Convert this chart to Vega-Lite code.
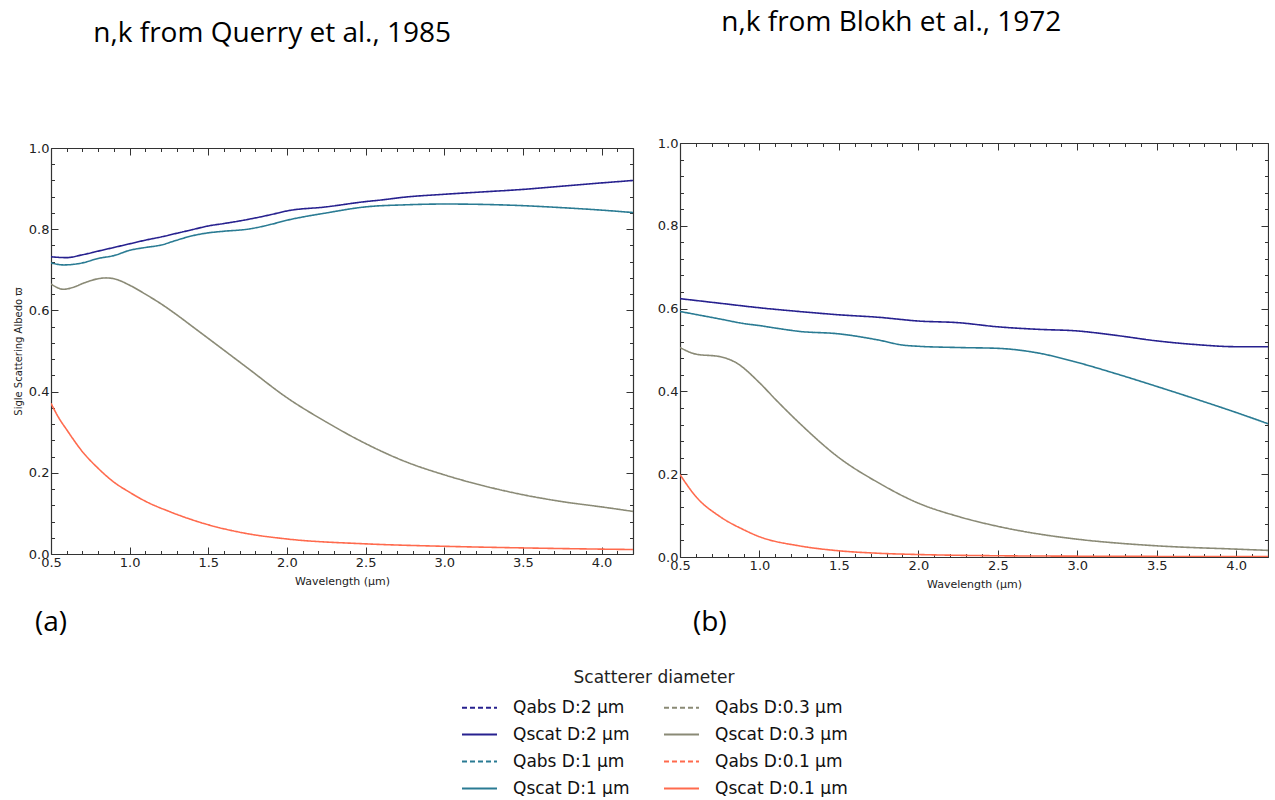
{
  "$schema": "https://vega.github.io/schema/vega-lite/v6.json",
  "background": "white",
  "padding": {"left": 13, "top": 9, "right": 0, "bottom": 0},
  "datasets": {
    "a": [
      {"w": 0.5, "alb": 0.732, "series": "Qscat D:2 µm"},
      {"w": 0.6, "alb": 0.730, "series": "Qscat D:2 µm"},
      {"w": 0.7, "alb": 0.737, "series": "Qscat D:2 µm"},
      {"w": 0.8, "alb": 0.746, "series": "Qscat D:2 µm"},
      {"w": 0.9, "alb": 0.755, "series": "Qscat D:2 µm"},
      {"w": 1.0, "alb": 0.764, "series": "Qscat D:2 µm"},
      {"w": 1.1, "alb": 0.773, "series": "Qscat D:2 µm"},
      {"w": 1.2, "alb": 0.781, "series": "Qscat D:2 µm"},
      {"w": 1.3, "alb": 0.790, "series": "Qscat D:2 µm"},
      {"w": 1.4, "alb": 0.799, "series": "Qscat D:2 µm"},
      {"w": 1.5, "alb": 0.808, "series": "Qscat D:2 µm"},
      {"w": 1.6, "alb": 0.814, "series": "Qscat D:2 µm"},
      {"w": 1.75, "alb": 0.824, "series": "Qscat D:2 µm"},
      {"w": 1.9, "alb": 0.836, "series": "Qscat D:2 µm"},
      {"w": 2.0, "alb": 0.845, "series": "Qscat D:2 µm"},
      {"w": 2.25, "alb": 0.855, "series": "Qscat D:2 µm"},
      {"w": 2.5, "alb": 0.868, "series": "Qscat D:2 µm"},
      {"w": 2.6, "alb": 0.872, "series": "Qscat D:2 µm"},
      {"w": 2.75, "alb": 0.879, "series": "Qscat D:2 µm"},
      {"w": 3.0, "alb": 0.886, "series": "Qscat D:2 µm"},
      {"w": 3.25, "alb": 0.892, "series": "Qscat D:2 µm"},
      {"w": 3.5, "alb": 0.898, "series": "Qscat D:2 µm"},
      {"w": 3.75, "alb": 0.906, "series": "Qscat D:2 µm"},
      {"w": 4.0, "alb": 0.914, "series": "Qscat D:2 µm"},
      {"w": 4.2, "alb": 0.920, "series": "Qscat D:2 µm"},

      {"w": 0.5, "alb": 0.717, "series": "Qscat D:1 µm"},
      {"w": 0.58, "alb": 0.712, "series": "Qscat D:1 µm"},
      {"w": 0.7, "alb": 0.717, "series": "Qscat D:1 µm"},
      {"w": 0.8, "alb": 0.728, "series": "Qscat D:1 µm"},
      {"w": 0.9, "alb": 0.735, "series": "Qscat D:1 µm"},
      {"w": 1.0, "alb": 0.748, "series": "Qscat D:1 µm"},
      {"w": 1.1, "alb": 0.755, "series": "Qscat D:1 µm"},
      {"w": 1.2, "alb": 0.761, "series": "Qscat D:1 µm"},
      {"w": 1.3, "alb": 0.773, "series": "Qscat D:1 µm"},
      {"w": 1.4, "alb": 0.784, "series": "Qscat D:1 µm"},
      {"w": 1.5, "alb": 0.791, "series": "Qscat D:1 µm"},
      {"w": 1.6, "alb": 0.795, "series": "Qscat D:1 µm"},
      {"w": 1.75, "alb": 0.800, "series": "Qscat D:1 µm"},
      {"w": 1.9, "alb": 0.812, "series": "Qscat D:1 µm"},
      {"w": 2.0, "alb": 0.822, "series": "Qscat D:1 µm"},
      {"w": 2.25, "alb": 0.840, "series": "Qscat D:1 µm"},
      {"w": 2.5, "alb": 0.855, "series": "Qscat D:1 µm"},
      {"w": 2.75, "alb": 0.860, "series": "Qscat D:1 µm"},
      {"w": 3.0, "alb": 0.862, "series": "Qscat D:1 µm"},
      {"w": 3.25, "alb": 0.861, "series": "Qscat D:1 µm"},
      {"w": 3.5, "alb": 0.858, "series": "Qscat D:1 µm"},
      {"w": 3.75, "alb": 0.853, "series": "Qscat D:1 µm"},
      {"w": 4.0, "alb": 0.847, "series": "Qscat D:1 µm"},
      {"w": 4.2, "alb": 0.841, "series": "Qscat D:1 µm"},

      {"w": 0.5, "alb": 0.665, "series": "Qscat D:0.3 µm"},
      {"w": 0.58, "alb": 0.652, "series": "Qscat D:0.3 µm"},
      {"w": 0.65, "alb": 0.658, "series": "Qscat D:0.3 µm"},
      {"w": 0.7, "alb": 0.666, "series": "Qscat D:0.3 µm"},
      {"w": 0.8, "alb": 0.678, "series": "Qscat D:0.3 µm"},
      {"w": 0.85, "alb": 0.680, "series": "Qscat D:0.3 µm"},
      {"w": 0.9, "alb": 0.678, "series": "Qscat D:0.3 µm"},
      {"w": 1.0, "alb": 0.662, "series": "Qscat D:0.3 µm"},
      {"w": 1.1, "alb": 0.640, "series": "Qscat D:0.3 µm"},
      {"w": 1.2, "alb": 0.616, "series": "Qscat D:0.3 µm"},
      {"w": 1.3, "alb": 0.589, "series": "Qscat D:0.3 µm"},
      {"w": 1.4, "alb": 0.560, "series": "Qscat D:0.3 µm"},
      {"w": 1.5, "alb": 0.531, "series": "Qscat D:0.3 µm"},
      {"w": 1.75, "alb": 0.458, "series": "Qscat D:0.3 µm"},
      {"w": 2.0, "alb": 0.385, "series": "Qscat D:0.3 µm"},
      {"w": 2.25, "alb": 0.325, "series": "Qscat D:0.3 µm"},
      {"w": 2.5, "alb": 0.272, "series": "Qscat D:0.3 µm"},
      {"w": 2.75, "alb": 0.228, "series": "Qscat D:0.3 µm"},
      {"w": 3.0, "alb": 0.195, "series": "Qscat D:0.3 µm"},
      {"w": 3.25, "alb": 0.168, "series": "Qscat D:0.3 µm"},
      {"w": 3.5, "alb": 0.146, "series": "Qscat D:0.3 µm"},
      {"w": 3.75, "alb": 0.129, "series": "Qscat D:0.3 µm"},
      {"w": 4.0, "alb": 0.116, "series": "Qscat D:0.3 µm"},
      {"w": 4.2, "alb": 0.105, "series": "Qscat D:0.3 µm"},

      {"w": 0.5, "alb": 0.371, "series": "Qscat D:0.1 µm"},
      {"w": 0.55, "alb": 0.335, "series": "Qscat D:0.1 µm"},
      {"w": 0.6, "alb": 0.306, "series": "Qscat D:0.1 µm"},
      {"w": 0.7, "alb": 0.252, "series": "Qscat D:0.1 µm"},
      {"w": 0.8, "alb": 0.211, "series": "Qscat D:0.1 µm"},
      {"w": 0.9, "alb": 0.177, "series": "Qscat D:0.1 µm"},
      {"w": 1.0, "alb": 0.152, "series": "Qscat D:0.1 µm"},
      {"w": 1.1, "alb": 0.130, "series": "Qscat D:0.1 µm"},
      {"w": 1.25, "alb": 0.105, "series": "Qscat D:0.1 µm"},
      {"w": 1.5, "alb": 0.072, "series": "Qscat D:0.1 µm"},
      {"w": 1.75, "alb": 0.050, "series": "Qscat D:0.1 µm"},
      {"w": 2.0, "alb": 0.037, "series": "Qscat D:0.1 µm"},
      {"w": 2.5, "alb": 0.025, "series": "Qscat D:0.1 µm"},
      {"w": 3.0, "alb": 0.019, "series": "Qscat D:0.1 µm"},
      {"w": 3.5, "alb": 0.015, "series": "Qscat D:0.1 µm"},
      {"w": 4.0, "alb": 0.012, "series": "Qscat D:0.1 µm"},
      {"w": 4.2, "alb": 0.011, "series": "Qscat D:0.1 µm"}
    ],
    "b": [
      {"w": 0.5, "alb": 0.624, "series": "Qscat D:2 µm"},
      {"w": 0.75, "alb": 0.613, "series": "Qscat D:2 µm"},
      {"w": 1.0, "alb": 0.602, "series": "Qscat D:2 µm"},
      {"w": 1.25, "alb": 0.593, "series": "Qscat D:2 µm"},
      {"w": 1.5, "alb": 0.585, "series": "Qscat D:2 µm"},
      {"w": 1.75, "alb": 0.579, "series": "Qscat D:2 µm"},
      {"w": 2.0, "alb": 0.570, "series": "Qscat D:2 µm"},
      {"w": 2.25, "alb": 0.566, "series": "Qscat D:2 µm"},
      {"w": 2.5, "alb": 0.556, "series": "Qscat D:2 µm"},
      {"w": 2.75, "alb": 0.550, "series": "Qscat D:2 µm"},
      {"w": 3.0, "alb": 0.546, "series": "Qscat D:2 µm"},
      {"w": 3.25, "alb": 0.535, "series": "Qscat D:2 µm"},
      {"w": 3.5, "alb": 0.522, "series": "Qscat D:2 µm"},
      {"w": 3.75, "alb": 0.513, "series": "Qscat D:2 µm"},
      {"w": 4.0, "alb": 0.508, "series": "Qscat D:2 µm"},
      {"w": 4.2, "alb": 0.508, "series": "Qscat D:2 µm"},

      {"w": 0.5, "alb": 0.593, "series": "Qscat D:1 µm"},
      {"w": 0.75, "alb": 0.575, "series": "Qscat D:1 µm"},
      {"w": 0.9, "alb": 0.564, "series": "Qscat D:1 µm"},
      {"w": 1.0, "alb": 0.559, "series": "Qscat D:1 µm"},
      {"w": 1.1, "alb": 0.553, "series": "Qscat D:1 µm"},
      {"w": 1.25, "alb": 0.545, "series": "Qscat D:1 µm"},
      {"w": 1.5, "alb": 0.539, "series": "Qscat D:1 µm"},
      {"w": 1.75, "alb": 0.524, "series": "Qscat D:1 µm"},
      {"w": 1.9, "alb": 0.512, "series": "Qscat D:1 µm"},
      {"w": 2.0, "alb": 0.509, "series": "Qscat D:1 µm"},
      {"w": 2.25, "alb": 0.506, "series": "Qscat D:1 µm"},
      {"w": 2.5, "alb": 0.504, "series": "Qscat D:1 µm"},
      {"w": 2.75, "alb": 0.493, "series": "Qscat D:1 µm"},
      {"w": 3.0, "alb": 0.470, "series": "Qscat D:1 µm"},
      {"w": 3.25, "alb": 0.442, "series": "Qscat D:1 µm"},
      {"w": 3.5, "alb": 0.412, "series": "Qscat D:1 µm"},
      {"w": 3.75, "alb": 0.381, "series": "Qscat D:1 µm"},
      {"w": 4.0, "alb": 0.349, "series": "Qscat D:1 µm"},
      {"w": 4.2, "alb": 0.322, "series": "Qscat D:1 µm"},

      {"w": 0.5, "alb": 0.506, "series": "Qscat D:0.3 µm"},
      {"w": 0.6, "alb": 0.490, "series": "Qscat D:0.3 µm"},
      {"w": 0.75, "alb": 0.484, "series": "Qscat D:0.3 µm"},
      {"w": 0.85, "alb": 0.470, "series": "Qscat D:0.3 µm"},
      {"w": 1.0, "alb": 0.421, "series": "Qscat D:0.3 µm"},
      {"w": 1.1, "alb": 0.381, "series": "Qscat D:0.3 µm"},
      {"w": 1.25, "alb": 0.324, "series": "Qscat D:0.3 µm"},
      {"w": 1.5, "alb": 0.240, "series": "Qscat D:0.3 µm"},
      {"w": 1.75, "alb": 0.179, "series": "Qscat D:0.3 µm"},
      {"w": 2.0, "alb": 0.130, "series": "Qscat D:0.3 µm"},
      {"w": 2.25, "alb": 0.098, "series": "Qscat D:0.3 µm"},
      {"w": 2.5, "alb": 0.074, "series": "Qscat D:0.3 µm"},
      {"w": 2.75, "alb": 0.056, "series": "Qscat D:0.3 µm"},
      {"w": 3.0, "alb": 0.043, "series": "Qscat D:0.3 µm"},
      {"w": 3.5, "alb": 0.027, "series": "Qscat D:0.3 µm"},
      {"w": 4.0, "alb": 0.019, "series": "Qscat D:0.3 µm"},
      {"w": 4.2, "alb": 0.016, "series": "Qscat D:0.3 µm"},

      {"w": 0.5, "alb": 0.199, "series": "Qscat D:0.1 µm"},
      {"w": 0.6, "alb": 0.146, "series": "Qscat D:0.1 µm"},
      {"w": 0.75, "alb": 0.098, "series": "Qscat D:0.1 µm"},
      {"w": 0.9, "alb": 0.066, "series": "Qscat D:0.1 µm"},
      {"w": 1.0, "alb": 0.049, "series": "Qscat D:0.1 µm"},
      {"w": 1.25, "alb": 0.027, "series": "Qscat D:0.1 µm"},
      {"w": 1.5, "alb": 0.015, "series": "Qscat D:0.1 µm"},
      {"w": 1.75, "alb": 0.009, "series": "Qscat D:0.1 µm"},
      {"w": 2.0, "alb": 0.006, "series": "Qscat D:0.1 µm"},
      {"w": 2.5, "alb": 0.003, "series": "Qscat D:0.1 µm"},
      {"w": 3.0, "alb": 0.002, "series": "Qscat D:0.1 µm"},
      {"w": 4.2, "alb": 0.001, "series": "Qscat D:0.1 µm"}
    ]
  },
  "hconcat": [
    {
      "title": {"text": "n,k from Querry et al., 1985", "anchor": "start", "dx": 80, "offset": 94},
      "vconcat": [
        {
          "width": 582,
          "height": 411,
          "title": {"text": "(a)", "orient": "bottom", "anchor": "start", "frame": "group", "dx": -16, "offset": 22},
          "data": {"name": "a"},
          "layer": [
            {
              "mark": {"type": "line", "interpolate": "monotone", "strokeWidth": 1.6, "clip": true},
              "encoding": {
                "x": {"field": "w", "type": "quantitative",
                  "scale": {"domain": [0.5, 4.2], "nice": false, "zero": false},
                  "axis": {"orient": "bottom", "title": "Wavelength (µm)",
                    "values": [0.5,0.6,0.7,0.8,0.9,1.0,1.1,1.2,1.3,1.4,1.5,1.6,1.7,1.8,1.9,2.0,2.1,2.2,2.3,2.4,2.5,2.6,2.7,2.8,2.9,3.0,3.1,3.2,3.3,3.4,3.5,3.6,3.7,3.8,3.9,4.0,4.1,4.2],
                    "labelExpr": "abs(round(datum.value*2)-datum.value*2)<0.001 ? format(datum.value,'.1f') : ''",
                    "tickSize": {"condition": {"test": "abs(round(datum.value*2)-datum.value*2)<0.001", "value": -7}, "value": -3.5},
                    "labelPadding": 9}},
                "y": {"field": "alb", "type": "quantitative",
                  "scale": {"domain": [0, 1], "nice": false, "range": [411, 5]},
                  "axis": {"orient": "left", "title": "Sigle Scattering Albedo ϖ",
                    "values": [0,0.04,0.08,0.12,0.16,0.2,0.24,0.28,0.32,0.36,0.4,0.44,0.48,0.52,0.56,0.6,0.64,0.68,0.72,0.76,0.8,0.84,0.88,0.92,0.96,1],
                    "labelExpr": "abs(round(datum.value*5)-datum.value*5)<0.001 ? format(datum.value,'.1f') : ''",
                    "tickSize": {"condition": {"test": "abs(round(datum.value*5)-datum.value*5)<0.001", "value": -7}, "value": -3.5},
                    "labelPadding": 9, "titlePadding": 5}},
                "color": {"field": "series", "type": "nominal",
                  "scale": {"domain": ["Qabs D:2 µm", "Qscat D:2 µm", "Qabs D:1 µm", "Qscat D:1 µm", "Qabs D:0.3 µm", "Qscat D:0.3 µm", "Qabs D:0.1 µm", "Qscat D:0.1 µm"],
                            "range": ["#27218f", "#27218f", "#2a7b93", "#2a7b93", "#8a8a76", "#8a8a76", "#ff6a4d", "#ff6a4d"]},
                  "legend": {"title": "Scatterer diameter", "orient": "none", "legendX": 410, "legendY": 527, "columns": 2}},
                "strokeDash": {"field": "series", "type": "nominal",
                  "scale": {"domain": ["Qabs D:2 µm", "Qscat D:2 µm", "Qabs D:1 µm", "Qscat D:1 µm", "Qabs D:0.3 µm", "Qscat D:0.3 µm", "Qabs D:0.1 µm", "Qscat D:0.1 µm"],
                            "range": [[5, 3], [1, 0], [5, 3], [1, 0], [5, 3], [1, 0], [5, 3], [1, 0]]},
                  "legend": {"title": "Scatterer diameter", "orient": "none", "legendX": 410, "legendY": 527, "columns": 2}}
              }
            },
            {
              "mark": {"type": "line", "opacity": 0},
              "encoding": {
                "x": {"field": "w", "type": "quantitative",
                  "axis": {"orient": "top", "title": null, "labels": false, "offset": -5,
                    "values": [0.5,0.6,0.7,0.8,0.9,1.0,1.1,1.2,1.3,1.4,1.5,1.6,1.7,1.8,1.9,2.0,2.1,2.2,2.3,2.4,2.5,2.6,2.7,2.8,2.9,3.0,3.1,3.2,3.3,3.4,3.5,3.6,3.7,3.8,3.9,4.0,4.1,4.2],
                    "tickSize": {"condition": {"test": "abs(round(datum.value*2)-datum.value*2)<0.001", "value": -7}, "value": -3.5}}},
                "y": {"field": "alb", "type": "quantitative",
                  "axis": {"orient": "right", "title": null, "labels": false,
                    "values": [0,0.04,0.08,0.12,0.16,0.2,0.24,0.28,0.32,0.36,0.4,0.44,0.48,0.52,0.56,0.6,0.64,0.68,0.72,0.76,0.8,0.84,0.88,0.92,0.96,1],
                    "tickSize": {"condition": {"test": "abs(round(datum.value*5)-datum.value*5)<0.001", "value": -7}, "value": -3.5}}}
              }
            }
          ]
        }
      ]
    },
    {
      "title": {"text": "n,k from Blokh et al., 1972", "anchor": "start", "dx": 64, "offset": 100},
      "vconcat": [
        {
          "width": 588,
          "height": 414,
          "title": {"text": "(b)", "orient": "bottom", "anchor": "start", "frame": "group", "dx": 13, "offset": 19},
          "data": {"name": "b"},
          "layer": [
            {
              "mark": {"type": "line", "interpolate": "monotone", "strokeWidth": 1.6, "clip": true},
              "encoding": {
                "x": {"field": "w", "type": "quantitative",
                  "scale": {"domain": [0.5, 4.2], "nice": false, "zero": false},
                  "axis": {"orient": "bottom", "title": "Wavelength (µm)",
                    "values": [0.5,0.6,0.7,0.8,0.9,1.0,1.1,1.2,1.3,1.4,1.5,1.6,1.7,1.8,1.9,2.0,2.1,2.2,2.3,2.4,2.5,2.6,2.7,2.8,2.9,3.0,3.1,3.2,3.3,3.4,3.5,3.6,3.7,3.8,3.9,4.0,4.1,4.2],
                    "labelExpr": "abs(round(datum.value*2)-datum.value*2)<0.001 ? format(datum.value,'.1f') : ''",
                    "tickSize": {"condition": {"test": "abs(round(datum.value*2)-datum.value*2)<0.001", "value": -7}, "value": -3.5},
                    "labelPadding": 9}},
                "y": {"field": "alb", "type": "quantitative",
                  "scale": {"domain": [0, 1], "nice": false},
                  "axis": {"orient": "left", "title": null,
                    "values": [0,0.04,0.08,0.12,0.16,0.2,0.24,0.28,0.32,0.36,0.4,0.44,0.48,0.52,0.56,0.6,0.64,0.68,0.72,0.76,0.8,0.84,0.88,0.92,0.96,1],
                    "labelExpr": "abs(round(datum.value*5)-datum.value*5)<0.001 ? format(datum.value,'.1f') : ''",
                    "tickSize": {"condition": {"test": "abs(round(datum.value*5)-datum.value*5)<0.001", "value": -7}, "value": -3.5},
                    "labelPadding": 9}},
                "color": {"field": "series", "type": "nominal",
                  "scale": {"domain": ["Qabs D:2 µm", "Qscat D:2 µm", "Qabs D:1 µm", "Qscat D:1 µm", "Qabs D:0.3 µm", "Qscat D:0.3 µm", "Qabs D:0.1 µm", "Qscat D:0.1 µm"],
                            "range": ["#27218f", "#27218f", "#2a7b93", "#2a7b93", "#8a8a76", "#8a8a76", "#ff6a4d", "#ff6a4d"]},
                  "legend": {"title": "Scatterer diameter", "orient": "none", "legendX": 410, "legendY": 527, "columns": 2}},
                "strokeDash": {"field": "series", "type": "nominal",
                  "scale": {"domain": ["Qabs D:2 µm", "Qscat D:2 µm", "Qabs D:1 µm", "Qscat D:1 µm", "Qabs D:0.3 µm", "Qscat D:0.3 µm", "Qabs D:0.1 µm", "Qscat D:0.1 µm"],
                            "range": [[5, 3], [1, 0], [5, 3], [1, 0], [5, 3], [1, 0], [5, 3], [1, 0]]},
                  "legend": {"title": "Scatterer diameter", "orient": "none", "legendX": 410, "legendY": 527, "columns": 2}}
              }
            },
            {
              "mark": {"type": "line", "opacity": 0},
              "encoding": {
                "x": {"field": "w", "type": "quantitative",
                  "axis": {"orient": "top", "title": null, "labels": false,
                    "values": [0.5,0.6,0.7,0.8,0.9,1.0,1.1,1.2,1.3,1.4,1.5,1.6,1.7,1.8,1.9,2.0,2.1,2.2,2.3,2.4,2.5,2.6,2.7,2.8,2.9,3.0,3.1,3.2,3.3,3.4,3.5,3.6,3.7,3.8,3.9,4.0,4.1,4.2],
                    "tickSize": {"condition": {"test": "abs(round(datum.value*2)-datum.value*2)<0.001", "value": -7}, "value": -3.5}}},
                "y": {"field": "alb", "type": "quantitative",
                  "axis": {"orient": "right", "title": null, "labels": false,
                    "values": [0,0.04,0.08,0.12,0.16,0.2,0.24,0.28,0.32,0.36,0.4,0.44,0.48,0.52,0.56,0.6,0.64,0.68,0.72,0.76,0.8,0.84,0.88,0.92,0.96,1],
                    "tickSize": {"condition": {"test": "abs(round(datum.value*5)-datum.value*5)<0.001", "value": -7}, "value": -3.5}}}
              }
            }
          ]
        }
      ]
    }
  ],
  "spacing": 23,
  "config": {
    "view": {"stroke": null},
    "axis": {
      "domain": true, "domainColor": "#333333", "domainWidth": 1.2, "grid": false,
      "tickColor": "#333333", "tickWidth": 1,
      "labelFont": "DejaVu Sans", "labelFontSize": 13, "labelColor": "#222222",
      "labelOverlap": false, "labelFlush": false, "labelBound": false,
      "titleFont": "DejaVu Sans", "titleFontSize": 11, "titleFontWeight": "normal", "titleColor": "#222222", "titlePadding": 3
    },
    "axisLeft": {"titleFontSize": 10},
    "title": {"font": "Open Sans", "fontSize": 28, "fontWeight": "normal", "color": "#000000", "baseline": "top"},
    "legend": {
      "titleFont": "DejaVu Sans", "titleFontSize": 17, "titleFontWeight": "normal", "titleColor": "#222222", "titleAnchor": "middle", "titlePadding": 2,
      "labelFont": "DejaVu Sans", "labelFontSize": 17, "labelColor": "#111111", "labelOffset": 15,
      "symbolType": "stroke", "symbolSize": 1225, "symbolStrokeWidth": 2,
      "rowPadding": -7, "columnPadding": 30
    }
  }
}
